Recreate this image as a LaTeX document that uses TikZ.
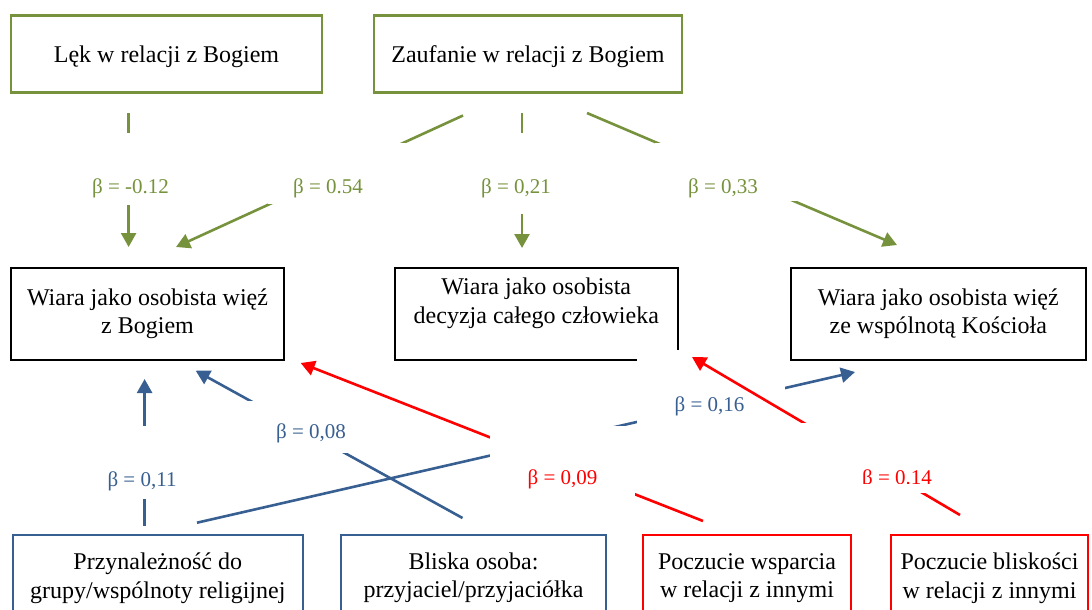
\documentclass[tikz,border=0pt]{standalone}
\usepackage{fontspec}
\setmainfont{Liberation Serif}
\usetikzlibrary{arrows.meta}
\definecolor{olivegreen}{RGB}{118,146,60}
\definecolor{steelblue}{RGB}{56,95,145}
\definecolor{pathred}{RGB}{255,0,0}
\begin{document}
\begin{tikzpicture}[x=1pt,y=-1pt,
  box/.style={draw, rectangle, inner sep=0pt, align=center, font=\fontsize{24}{28.5}\selectfont},
  topbox/.style={box, draw=olivegreen, line width=2.5pt, minimum height=77pt, text depth=0pt},
  midbox/.style={box, draw=black, line width=2pt, minimum height=91.5pt},
  bluebox/.style={box, draw=steelblue, line width=2pt, minimum height=86pt},
  redbox/.style={box, draw=pathred, line width=2pt, minimum height=86pt},
  conn/.style={line width=2.6pt},
  arr/.style={conn, -{Triangle[length=14pt,width=15pt]}},
  beta/.style={font=\fontsize{21}{25}\selectfont, inner sep=0pt},
  mask/.style={fill=white}
]
\clip (0,0) rectangle (1092,610);

% ---------- boxes ----------
\node[topbox, minimum width=311pt] (lek) at (166.5,54.2) {Lęk w relacji z Bogiem};
\node[topbox, minimum width=308pt] (zaufanie) at (528,54.2) {Zaufanie w relacji z Bogiem};

\node[midbox, minimum width=273pt] (wiez) at (147.5,313.75) {Wiara jako osobista więź\\z Bogiem};
\node[midbox, minimum width=282.7pt] (decyzja) at (536.3,313.75)
  {\raisebox{10.5pt}[\height][\depth]{\begin{tabular}{@{}c@{}}Wiara jako osobista\\decyzja całego człowieka\end{tabular}}};
\node[midbox, minimum width=295.3pt] (kosciol) at (938.3,313.75) {Wiara jako osobista więź\\ze wspólnotą Kościoła};

\node[bluebox, minimum width=290.5pt] (przyn) at (157.75,578) {Przynależność do\\grupy/wspólnoty religijnej};
\node[bluebox, minimum width=265pt] (bliska) at (473.5,578) {Bliska osoba:\\przyjaciel/przyjaciółka};
\node[redbox, minimum width=208pt] (wsparcie) at (747,578) {Poczucie wsparcia\\w relacji z innymi};
\node[redbox, minimum width=197pt] (bliskosc) at (989.5,578) {Poczucie bliskości\\w relacji z innymi};

% ---------- connector end points ----------
\coordinate (lekA) at (128.6,113);   \coordinate (wiezA) at (128.6,247);
\coordinate (zaufB) at (463,115.5);  \coordinate (wiezB) at (176,247);
\coordinate (zaufC) at (522,113);    \coordinate (decyzjaC) at (522,248);
\coordinate (zaufD) at (587,113);    \coordinate (kosciolD) at (897,245);
\coordinate (przynE) at (144.6,526); \coordinate (wiezE) at (144.6,379);
\coordinate (bliskaF) at (462.5,518);\coordinate (wiezF) at (195.7,370.7);
\coordinate (przynG) at (197,522.7); \coordinate (kosciolG) at (855,372);
\coordinate (wsparcieH) at (703,521);\coordinate (wiezH) at (300.7,363);
\coordinate (bliskoscI) at (960,515);\coordinate (decyzjaI) at (692,357);

% ---------- upper paths (green) ----------
\draw[arr, olivegreen] (lekA) -- (wiezA);
\draw[arr, olivegreen] (zaufB) -- (wiezB);
\draw[arr, olivegreen] (zaufC) -- (decyzjaC);
\draw[arr, olivegreen] (zaufD) -- (kosciolD);

% label backgrounds
\fill[mask] (85,133) rectangle (175,205);
\fill[mask] (268,143) rectangle (406,204);
\fill[mask] (470,133) rectangle (565,214);
\fill[mask] (655,143) rectangle (797,201);

\node[beta, text=olivegreen] (bA) at (130.5,188) {β = -0.12};
\node[beta, text=olivegreen] (bB) at (328,188) {β = 0.54};
\node[beta, text=olivegreen] (bC) at (516,188) {β = 0,21};
\node[beta, text=olivegreen] (bD) at (723,188) {β = 0,33};

% ---------- lower paths (blue and red) ----------
\draw[arr, steelblue] (przynE) -- (wiezE);
\draw[arr, steelblue] (bliskaF) -- (wiezF);
\draw[arr, steelblue] (przynG) -- (kosciolG);
\draw[arr, pathred] (wsparcieH) -- (wiezH);

% label backgrounds
\fill[mask] (100,426) rectangle (190,499);
\fill[mask] (245,401) rectangle (360,453);
\fill[mask] (490,425.5) rectangle (635,496);
\fill[mask] (637,350) rectangle (785,440);

\draw[arr, pathred] (bliskoscI) -- (decyzjaI);
\fill[mask] (795,423) rectangle (975,493);

\node[beta, text=steelblue] (bE) at (142,481.5) {β = 0,11};
\node[beta, text=steelblue] (bF) at (311,433) {β = 0,08};
\node[beta, text=pathred] (bH) at (562.5,479) {β = 0,09};
\node[beta, text=steelblue] (bG) at (709.5,406.5) {β = 0,16};
\begin{scope}
  \clip (840,455) rectangle (960,483.5);
  \node[beta, text=pathred] (bI) at (897,479) {β = 0.14};
\end{scope}
\end{tikzpicture}
\end{document}
